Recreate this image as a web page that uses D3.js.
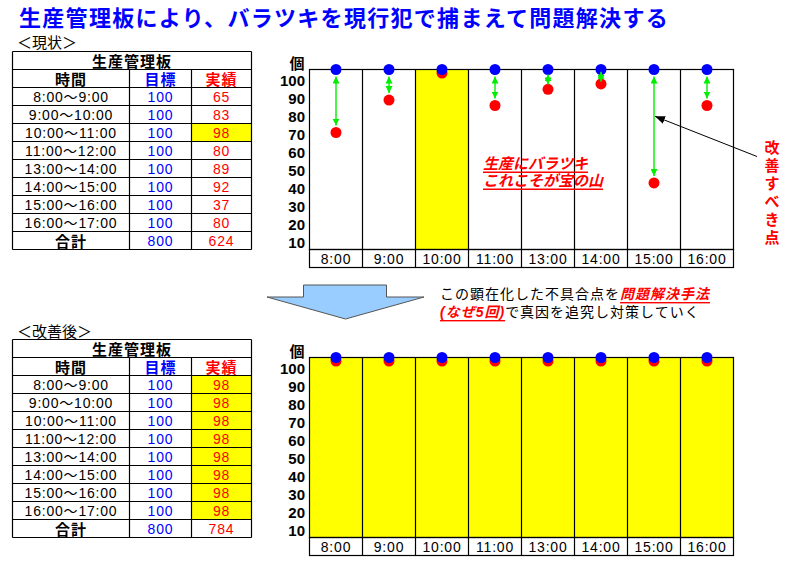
<!DOCTYPE html>
<html>
<head>
<meta charset="utf-8">
<script src="https://cdn.jsdelivr.net/npm/d3@7"></script>
<style>
  body { margin: 0; background: #fff; }
  svg { display: block; font-family: "Liberation Sans", "Noto Sans CJK JP", sans-serif; }
</style>
</head>
<body>
<svg id="board" width="785" height="565"></svg>
<script>
// --- data ---
const slots = ["8:00", "9:00", "10:00", "11:00", "13:00", "14:00", "15:00", "16:00"];
const periods = ["8:00～9:00", "9:00～10:00", "10:00～11:00", "11:00～12:00", "13:00～14:00", "14:00～15:00", "15:00～16:00", "16:00～17:00"];
const target = [100, 100, 100, 100, 100, 100, 100, 100];
const actualBefore = [65, 83, 98, 80, 89, 92, 37, 80];
const actualAfter = [98, 98, 98, 98, 98, 98, 98, 98];
const yTicks = [100, 90, 80, 70, 60, 50, 40, 30, 20, 10];

const BLUE = "#0000ff";
const RED = "#ff0000";
const YELLOW = "#ffff00";
const GREEN = "#00ee00";
const ROW = 18;
const PLOT_H = 180;
const COLS = [12.5, 129.5, 191.5, 251.5];

const svg = d3.select("#board");

const defs = svg.append("defs");
defs.append("marker")
  .attr("id", "head-green")
  .attr("markerUnits", "userSpaceOnUse")
  .attr("markerWidth", 7).attr("markerHeight", 7)
  .attr("refX", 7).attr("refY", 3.5)
  .attr("orient", "auto-start-reverse")
  .append("path").attr("d", "M0,0 L7,3.5 L0,7 z").attr("fill", GREEN);
defs.append("marker")
  .attr("id", "head-black")
  .attr("markerUnits", "userSpaceOnUse")
  .attr("markerWidth", 10).attr("markerHeight", 8)
  .attr("refX", 10).attr("refY", 4)
  .attr("orient", "auto")
  .append("path").attr("d", "M0,0 L10,4 L0,8 z").attr("fill", "#000");

// title
svg.append("text")
  .attr("x", 19).attr("y", 18)
  .attr("dominant-baseline", "central")
  .attr("font-size", 22).attr("font-weight", "bold")
  .attr("letter-spacing", 1.3)
  .attr("fill", BLUE)
  .text("生産管理板により、バラツキを現行犯で捕まえて問題解決する");

function drawTable(g, y0, actual) {
  const rowY = (i) => y0 + i * ROW;
  const mid = (c) => (COLS[c] + COLS[c + 1]) / 2;
  const rows = periods.map((p, i) => ({ period: p, target: target[i], actual: actual[i] }));

  // yellow cells for hours that hit the mark
  g.selectAll("rect.hit")
    .data(rows)
    .join("rect")
    .attr("class", "hit")
    .filter((d) => d.actual >= 98)
    .attr("x", COLS[2]).attr("y", (d, i) => rowY(rows.indexOf(d) + 2))
    .attr("width", COLS[3] - COLS[2]).attr("height", ROW)
    .attr("fill", YELLOW);
  g.selectAll("rect.hit").filter((d) => d.actual < 98).remove();

  const lines = g.append("g").attr("stroke", "#000").attr("stroke-width", 1.2);
  d3.range(12).forEach((i) => {
    lines.append("line").attr("x1", COLS[0]).attr("x2", COLS[3]).attr("y1", rowY(i)).attr("y2", rowY(i));
  });
  COLS.forEach((cx, c) => {
    lines.append("line").attr("x1", cx).attr("x2", cx)
      .attr("y1", c === 0 || c === 3 ? rowY(0) : rowY(1)).attr("y2", rowY(11));
  });

  const txt = (x, i, s, color, opts = {}) =>
    g.append("text")
      .attr("x", x).attr("y", rowY(i) + ROW / 2 + 0.5)
      .attr("text-anchor", "middle")
      .attr("dominant-baseline", "central")
      .attr("font-size", opts.size || 14)
      .attr("font-weight", opts.bold ? "bold" : "normal")
      .attr("letter-spacing", opts.ls || 0)
      .attr("fill", color)
      .text(s);

  txt((COLS[0] + COLS[3]) / 2, 0, "生産管理板", "#000", { size: 15, bold: true, ls: 1 });
  txt(mid(0), 1, "時間", "#000", { size: 15, bold: true, ls: 1 });
  txt(mid(1), 1, "目標", BLUE, { size: 15, bold: true, ls: 1 });
  txt(mid(2), 1, "実績", RED, { size: 15, bold: true, ls: 1 });
  rows.forEach((d, i) => {
    txt(mid(0), i + 2, d.period, "#000", { ls: 0.8 });
    txt(mid(1), i + 2, d.target, BLUE, { ls: 0.8 });
    txt(mid(2), i + 2, d.actual, RED, { ls: 0.8 });
  });
  txt(mid(0), 10, "合計", "#000", { size: 15, bold: true, ls: 1 });
  txt(mid(1), 10, d3.sum(target), BLUE, { ls: 0.8 });
  txt(mid(2), 10, d3.sum(actual), RED, { ls: 0.8 });
}

function drawChart(g, top, actual) {
  const x = d3.scaleBand().domain(slots).range([309.5, 733.5]);
  const y = d3.scaleLinear().domain([0, 100]).range([top + PLOT_H, top]);
  const yBand = d3.scaleBand().domain(yTicks).range([top, top + PLOT_H]);
  const pts = slots.map((s, i) => ({ slot: s, target: target[i], actual: actual[i] }));

  g.append("g")
    .selectAll("rect")
    .data(pts.filter((d) => d.actual >= 98))
    .join("rect")
    .attr("x", (d) => x(d.slot)).attr("y", top)
    .attr("width", x.bandwidth()).attr("height", PLOT_H)
    .attr("fill", YELLOW);

  const frame = g.append("g").attr("stroke", "#000").attr("stroke-width", 1.2).attr("fill", "none");
  frame.append("rect").attr("x", 309.5).attr("y", top).attr("width", 424).attr("height", PLOT_H);
  frame.append("rect").attr("x", 309.5).attr("y", top + PLOT_H).attr("width", 424).attr("height", ROW);
  frame.selectAll("line")
    .data(slots.slice(1))
    .join("line")
    .attr("x1", (d) => x(d)).attr("x2", (d) => x(d))
    .attr("y1", top).attr("y2", top + PLOT_H + ROW);

  const xAxis = g.append("g")
    .attr("transform", `translate(0,${top + PLOT_H})`)
    .call(d3.axisBottom(x).tickSize(0));
  xAxis.select(".domain").remove();
  xAxis.selectAll("text")
    .attr("y", ROW / 2 + 0.5).attr("dy", null)
    .attr("dominant-baseline", "central")
    .attr("font-family", "Liberation Sans, sans-serif")
    .attr("font-size", 14).attr("letter-spacing", 0.8)
    .attr("fill", "#000");

  const yAxis = g.append("g")
    .attr("transform", "translate(305,0)")
    .call(d3.axisLeft(yBand).tickSize(0).tickPadding(0));
  yAxis.select(".domain").remove();
  yAxis.selectAll("text")
    .attr("dy", null).attr("y", 2)
    .attr("dominant-baseline", "central")
    .attr("font-family", "Liberation Sans, sans-serif")
    .attr("font-size", 15).attr("font-weight", "bold")
    .attr("fill", "#000");

  g.append("text")
    .attr("x", 297).attr("y", top - 6)
    .attr("text-anchor", "middle").attr("dominant-baseline", "central")
    .attr("font-size", 15).attr("font-weight", "bold")
    .text("個");

  const cx = (d) => x(d.slot) + x.bandwidth() / 2;
  g.append("g").selectAll("circle")
    .data(pts).join("circle")
    .attr("cx", cx).attr("cy", (d) => y(d.actual)).attr("r", 5.5).attr("fill", RED);
  g.append("g").selectAll("circle")
    .data(pts).join("circle")
    .attr("cx", cx).attr("cy", (d) => y(d.target)).attr("r", 5.5).attr("fill", BLUE);

  // gap arrows between target and actual
  g.append("g").selectAll("line")
    .data(pts.filter((d) => d.target - d.actual > 5))
    .join("line")
    .each(function (d) {
      const y1 = y(d.target);
      const y2 = y(d.actual);
      const inset = Math.min(7, (y2 - y1) / 2 - 5);
      d3.select(this)
        .attr("x1", cx(d)).attr("x2", cx(d))
        .attr("y1", y1 + inset).attr("y2", y2 - inset);
    })
    .attr("stroke", GREEN).attr("stroke-width", 1.4)
    .attr("marker-start", "url(#head-green)")
    .attr("marker-end", "url(#head-green)");

  return { x, y };
}

// ---- before ----
const y0a = 51.5;
svg.append("text").attr("x", 17).attr("y", y0a - 9)
  .attr("dominant-baseline", "central").attr("font-size", 15)
  .text("＜現状＞");
const gA = svg.append("g");
drawTable(gA, y0a, actualBefore);
const topA = y0a + ROW;
const scA = drawChart(gA, topA, actualBefore);

const note1 = gA.append("text")
  .attr("font-size", 15).attr("font-weight", "bold").attr("font-style", "italic")
  .attr("fill", RED).attr("text-decoration", "underline")
  .attr("dominant-baseline", "central");
note1.append("tspan").attr("x", 483).attr("y", topA + 93).text("生産にバラツキ");
note1.append("tspan").attr("x", 483).attr("y", topA + 110).text("これこそが宝の山");

const worst = slots[actualBefore.indexOf(d3.min(actualBefore))];
gA.append("line")
  .attr("x1", 757).attr("y1", topA + 87)
  .attr("x2", scA.x(worst) + scA.x.bandwidth() / 2 + 1).attr("y2", scA.y(74))
  .attr("stroke", "#000").attr("stroke-width", 1)
  .attr("marker-end", "url(#head-black)");

gA.append("g").selectAll("text")
  .data("改善すべき点".split(""))
  .join("text")
  .attr("x", 772).attr("y", (d, i) => topA + 78 + i * 18)
  .attr("text-anchor", "middle").attr("dominant-baseline", "central")
  .attr("font-size", 15).attr("font-weight", "bold")
  .attr("fill", RED)
  .text((d) => d);

// ---- transition arrow and note ----
svg.append("polygon")
  .attr("points", [[303.5, 285], [386.5, 285], [386.5, 297], [424, 297], [345.5, 319], [267, 297], [303.5, 297]].join(" "))
  .attr("fill", "#99ccff").attr("stroke", "#555").attr("stroke-width", 1);

const mid = svg.append("text").attr("font-size", 14).attr("letter-spacing", 1)
  .attr("dominant-baseline", "central");
const l1 = mid.append("tspan").attr("x", 440).attr("y", 294);
l1.append("tspan").text("この顕在化した不具合点を");
l1.append("tspan").attr("fill", RED).attr("font-weight", "bold").attr("font-style", "italic")
  .attr("text-decoration", "underline").text("問題解決手法");
const l2 = mid.append("tspan").attr("x", 440).attr("y", 312);
l2.append("tspan").attr("fill", RED).attr("font-weight", "bold").attr("font-style", "italic")
  .attr("text-decoration", "underline").text("(なぜ5回)");
l2.append("tspan").text("で真因を追究し対策していく");

// ---- after ----
const y0b = 339.5;
svg.append("text").attr("x", 17).attr("y", y0b - 8)
  .attr("dominant-baseline", "central").attr("font-size", 15)
  .text("＜改善後＞");
const gB = svg.append("g");
drawTable(gB, y0b, actualAfter);
drawChart(gB, y0b + ROW, actualAfter);
</script>
</body>
</html>
